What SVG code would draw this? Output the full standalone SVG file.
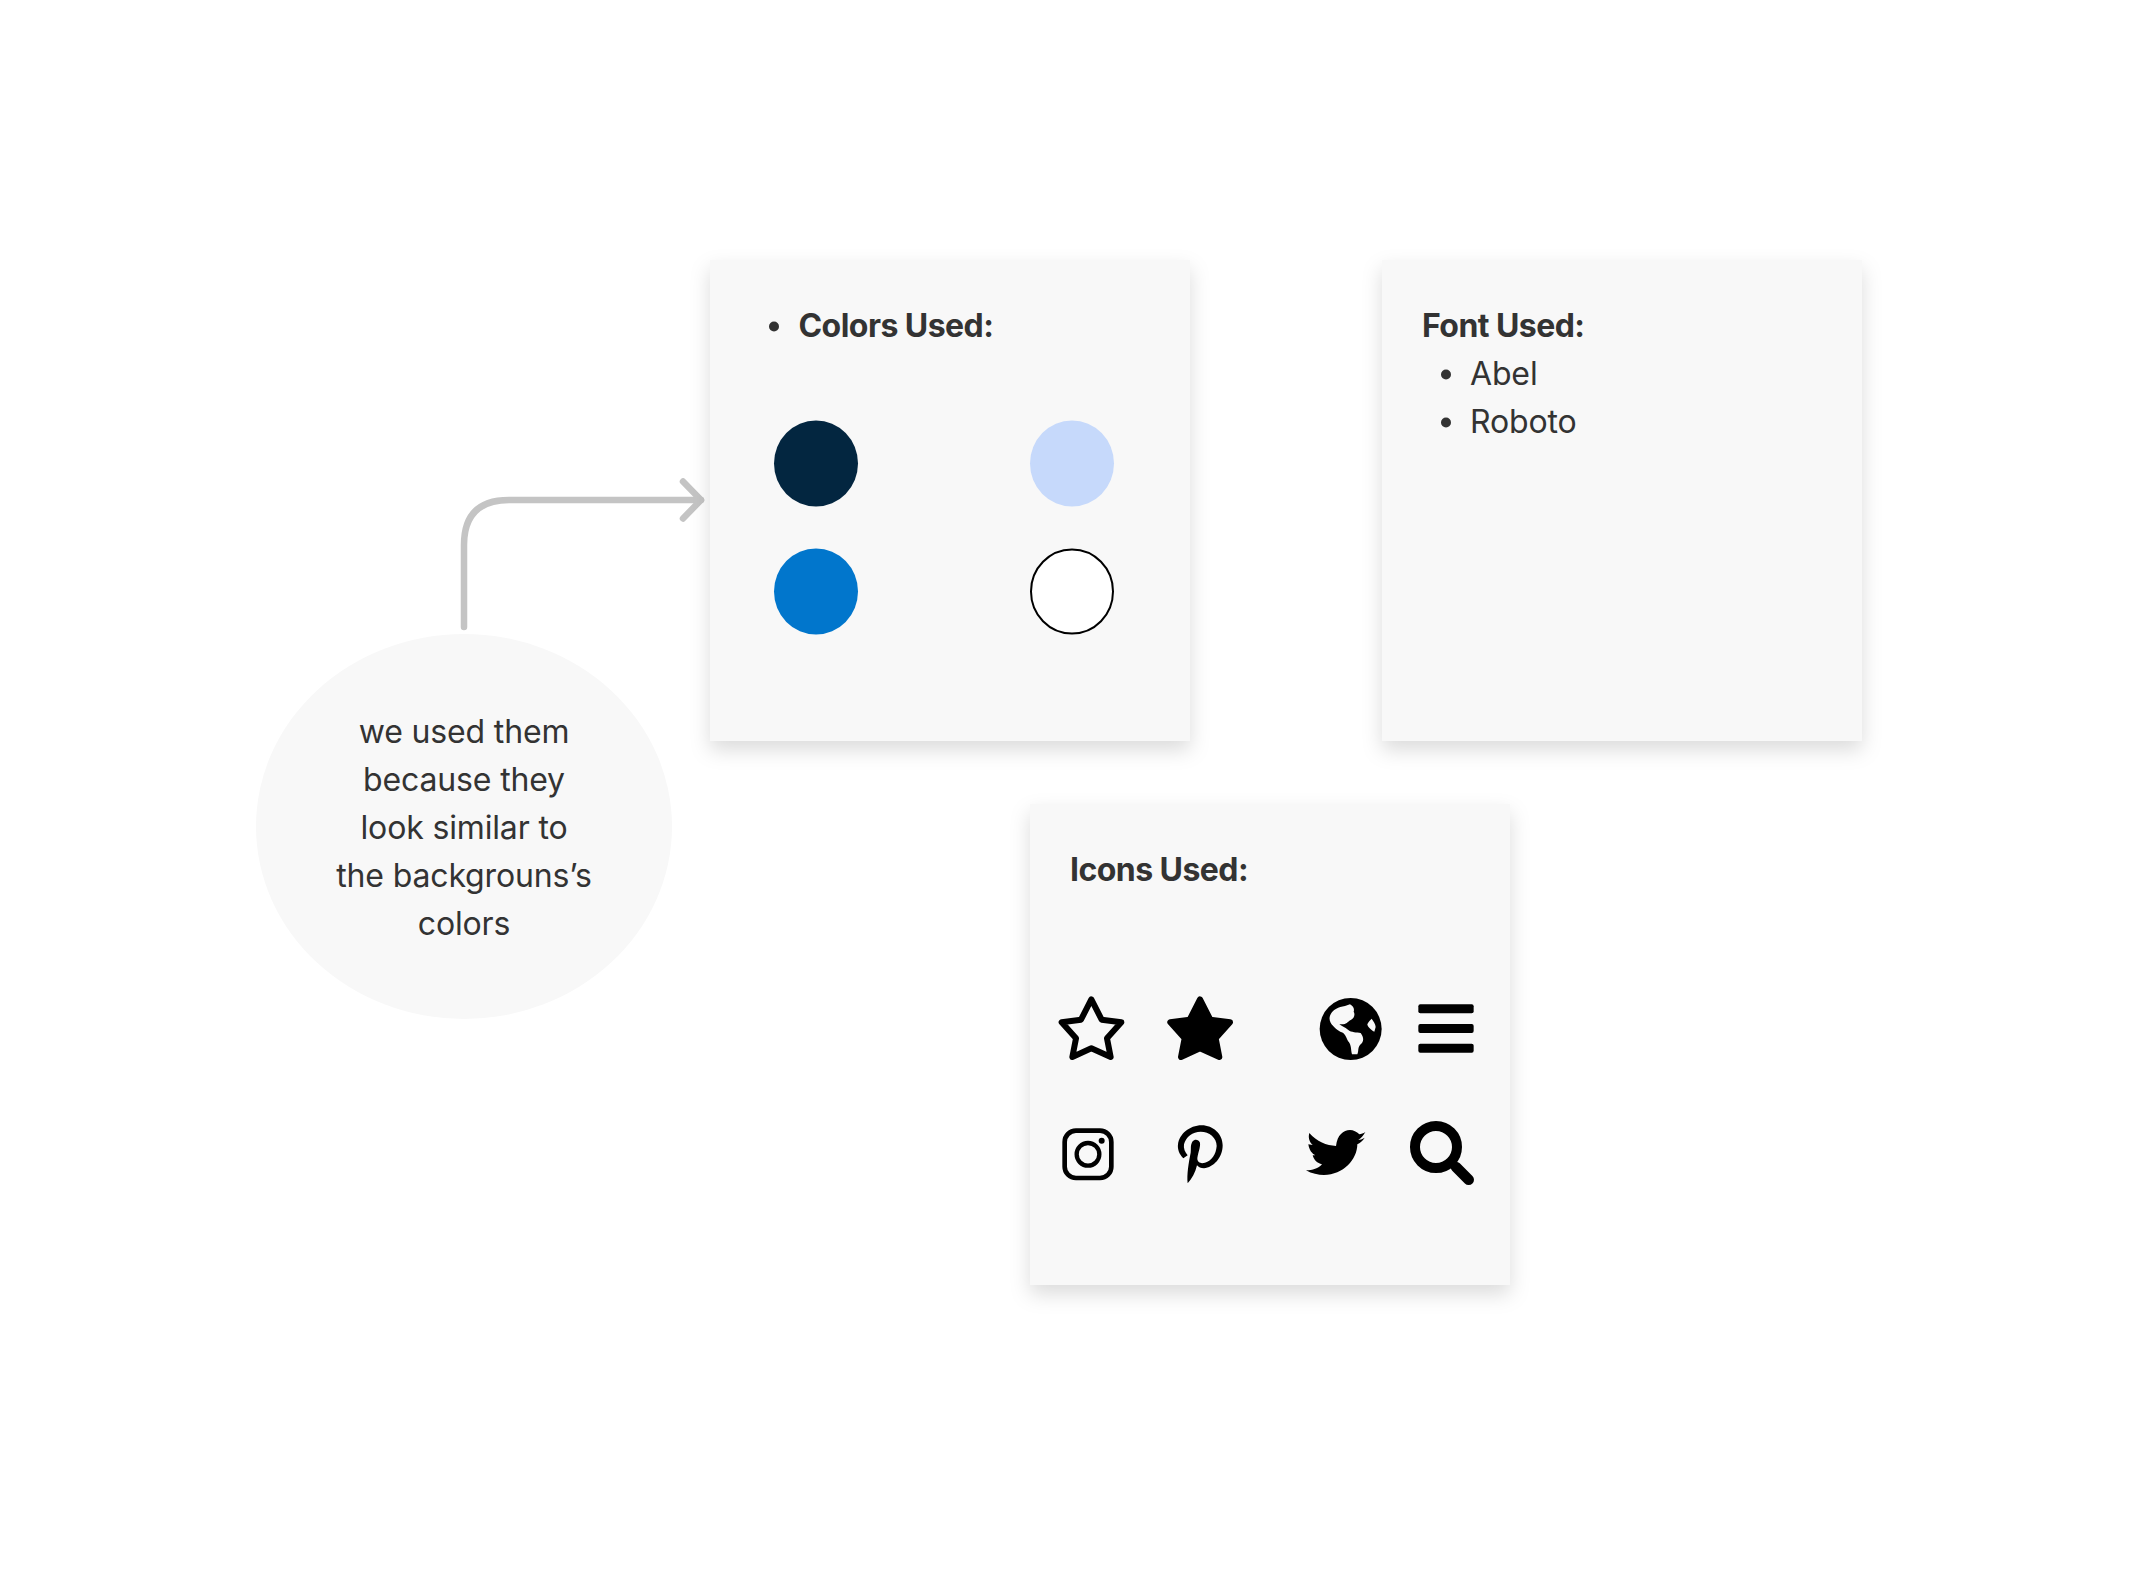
<svg xmlns="http://www.w3.org/2000/svg" width="2138" height="1576" viewBox="0 0 2138 1576">
<defs>
<filter id="shadow" x="-15%" y="-15%" width="130%" height="135%">
<feDropShadow dx="0" dy="9" stdDeviation="10" flood-color="#000" flood-opacity="0.14"/>
</filter>
<marker id="open-arrow" markerUnits="userSpaceOnUse" markerWidth="30" markerHeight="50" refX="22" refY="25" orient="auto">
<path d="M4,6.5 L22,25 L4,43.5" fill="none" stroke="#c4c4c4" stroke-width="6.500" stroke-linecap="round" stroke-linejoin="round"/>
</marker>
</defs>
<style>
text{font-family:Inter,"Liberation Sans",sans-serif;font-size:32px;fill:#333;letter-spacing:-0.15px}
.b{font-weight:700;letter-spacing:-0.55px}
.c{text-anchor:middle}
.card{fill:#f8f8f8;filter:url(#shadow)}
.dot{fill:#333}
.i{fill:#000}
.l{fill:#f8f8f8}
</style>
<rect width="2138" height="1576" fill="#fff"/>
<g id="connectors">
<path d="M464,627 V545 Q464,500 509,500 H701" fill="none" stroke="#c4c4c4" stroke-width="6.500" stroke-linecap="round" marker-end="url(#open-arrow)"/>
</g>
<g id="note">
<ellipse cx="464" cy="826.5" rx="208" ry="192.5" fill="#f8f8f8"/>
<text class="c" x="464" y="743">we used them</text>
<text class="c" x="464" y="791">because they</text>
<text class="c" x="464" y="839">look similar to</text>
<text class="c" x="464" y="887">the backgrouns’s</text>
<text class="c" x="464" y="935">colors</text>
</g>
<g id="colors-card">
<rect class="card" x="710" y="260" width="480" height="481"/>
<circle class="dot" cx="774" cy="326.500" r="5"/>
<text class="b" x="798.500" y="337">Colors Used:</text>
<ellipse cx="816" cy="463.500" rx="42" ry="43" fill="#032640"/>
<ellipse cx="1072" cy="463.500" rx="42" ry="43" fill="#c6d9fb"/>
<ellipse cx="816" cy="591.500" rx="42" ry="43" fill="#0176cc"/>
<ellipse cx="1072" cy="591.500" rx="41" ry="42" fill="#fff" stroke="#000" stroke-width="2"/>
</g>
<g id="font-card">
<rect class="card" x="1382" y="260" width="480" height="481"/>
<text class="b" x="1422" y="337">Font Used:</text>
<circle class="dot" cx="1446" cy="374.500" r="5"/>
<text x="1470" y="385">Abel</text>
<circle class="dot" cx="1446" cy="422.500" r="5"/>
<text x="1470" y="433">Roboto</text>
</g>
<g id="icons-card">
<rect class="card" x="1030" y="804" width="480" height="481"/>
<text class="b" x="1070" y="881">Icons Used:</text>
<g transform="translate(1020,961) scale(0.33333)">
<polygon id="star-outline" points="214,115 245,176 304,184 261,232 272,288 214,262 157,288 168,232 125,184 183,176" fill="none" stroke="#000" stroke-width="18" stroke-linejoin="round"/>
<polygon id="star-filled" points="540,115 571,176 630,184 587,232 598,288 540,262 483,288 494,232 451,184 509,176" fill="#000" stroke="#000" stroke-width="18" stroke-linejoin="round"/>
<g id="globe" transform="translate(870,90)">
<circle class="i" cx="122" cy="114" r="93"/>
<path class="l" d="M62,70 C70,55 85,48 105,45 L120,40 C130,45 134,55 131,62 C136,70 133,82 122,87 C115,90 112,98 100,100 L88,100 C95,106 105,108 114,116 C124,125 140,123 152,126 C162,140 162,150 152,160 C142,170 147,180 142,190 L126,190 C122,175 125,162 114,150 C108,138 105,128 95,124 C85,120 68,106 62,95 C57,85 58,78 62,70Z"/>
<path class="l" d="M185,83 C190,90 197,100 197,108 L193,122 C182,118 172,105 172,100 C175,92 180,88 185,83Z"/>
</g>
<g id="menu">
<rect class="i" x="1195" y="130" width="166" height="27" rx="6"/>
<rect class="i" x="1195" y="189" width="166" height="27" rx="6"/>
<rect class="i" x="1195" y="248" width="166" height="27" rx="6"/>
</g>
<g id="instagram">
<rect x="134" y="509" width="140" height="142" rx="34" fill="none" stroke="#000" stroke-width="14"/>
<circle cx="204" cy="580" r="34" fill="none" stroke="#000" stroke-width="13"/>
<circle class="i" cx="245" cy="539" r="9"/>
</g>
<path id="pinterest" class="i" transform="translate(450,465)" d="M53,202 C50,175 56,140 62,110 C64,95 60,90 68,76 C74,68 86,70 90,80 C92,95 82,115 82,130 C84,142 95,143 105,140 C125,135 138,115 140,90 C140,65 118,47 92,47 C68,47 48,62 42,85 C40,98 45,108 53,118 L40,127 C28,115 22,100 24,85 C28,55 58,28 95,28 C130,28 158,55 158,88 C158,125 130,155 102,157 C92,157 86,154 81,148 C76,170 66,188 53,202Z"/>
<path id="twitter" class="i" transform="translate(840,480)" d="M196,33 C190,37 184,39 178,40 C170,32 160,27 150,27 C130,27 112,42 108,75 C80,73 50,62 28,36 C24,50 28,62 38,72 L25,70 C28,88 36,98 46,103 L38,103 C42,118 52,126 66,130 C55,142 38,148 18,148 C35,158 55,162 72,162 C130,162 172,115 172,70 C180,66 188,60 194,50 C186,55 180,56 175,57 C183,52 190,44 196,33Z"/>
<g id="search">
<circle cx="1248" cy="558" r="63" fill="none" stroke="#000" stroke-width="30"/>
<path d="M1308,618 L1346,656" fill="none" stroke="#000" stroke-width="32" stroke-linecap="round"/>
</g>
</g>
</g>
</svg>
